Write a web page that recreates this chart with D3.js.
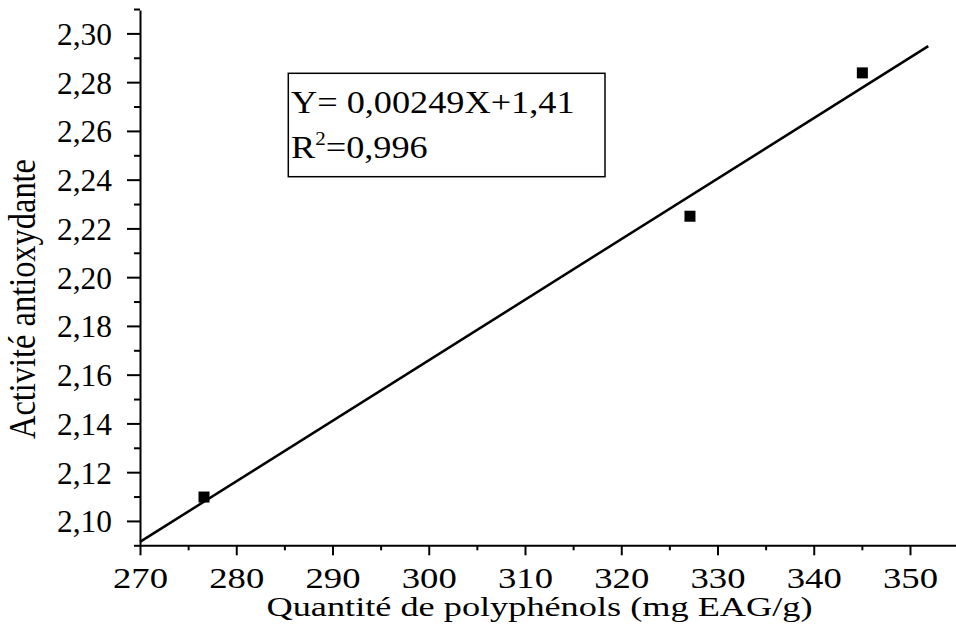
<!DOCTYPE html>
<html lang="fr">
<head>
<meta charset="UTF-8">
<title>Activité antioxydante vs polyphénols</title>
<script src="https://d3js.org/d3.v7.min.js"></script>
<style>
    body { margin: 0; background: #fff; }
    svg text { font-family: "Liberation Serif", "Times New Roman", serif; fill: #000; }
</style>
</head>
<body>
<svg width="956" height="628"></svg>
<script>
// measured points (quantité de polyphénols, activité antioxydante)
const polyphenols = [276.65, 327.14, 345.05];
const activite = [2.1098, 2.225, 2.2838];

// linear fit, endpoints as drawn
const fitX = [270, 351.9];
const fitY = [2.0914, 2.2948];

const xTicks = [270, 280, 290, 300, 310, 320, 330, 340, 350];
const yTicks = [2.10, 2.12, 2.14, 2.16, 2.18, 2.20, 2.22, 2.24, 2.26, 2.28, 2.30];

const equation = "Y= 0,00249X+1,41";
const r2 = "0,996";

const svg = d3.select("svg");

const x = d3.scaleLinear().domain([270, 354.78]).range([140, 956]);
const y = d3.scaleLinear().domain([2.09, 2.3096]).range([545.3, 10]);

const fmtY = d => d3.format(".2f")(d).replace(".", ",");

// minor ticks
svg.append("g")
    .attr("transform", "translate(0,545.3)")
    .call(d3.axisBottom(x).tickValues(d3.range(275, 355, 10)).tickSize(5).tickFormat(""))
    .call(g => g.select(".domain").remove())
    .call(g => g.selectAll("line").attr("stroke-width", 2));

svg.append("g")
    .attr("transform", "translate(140,0)")
    .call(d3.axisLeft(y).tickValues(d3.range(2.09, 2.31, 0.02)).tickSize(6).tickFormat(""))
    .call(g => g.select(".domain").remove())
    .call(g => g.selectAll("line").attr("stroke-width", 2));

// x axis
const gx = svg.append("g")
    .attr("transform", "translate(0,545.3)")
    .call(d3.axisBottom(x).tickValues(xTicks).tickSize(10).tickSizeOuter(0).tickPadding(33).tickFormat(d3.format("d")));
gx.select(".domain").attr("stroke-width", 2);
gx.selectAll("line").attr("stroke-width", 2);
gx.selectAll("text")
    .attr("dy", null)
    .attr("font-size", 30)
    .attr("textLength", 55)
    .attr("lengthAdjust", "spacingAndGlyphs");

// y axis
const gy = svg.append("g")
    .attr("transform", "translate(140,0)")
    .call(d3.axisLeft(y).tickValues(yTicks).tickSize(13).tickSizeOuter(0).tickPadding(15).tickFormat(fmtY));
gy.select(".domain").attr("stroke-width", 2);
gy.selectAll("line").attr("stroke-width", 2);
gy.selectAll("text")
    .attr("dy", "0.35em")
    .attr("font-size", 31)
    .attr("textLength", 55)
    .attr("lengthAdjust", "spacingAndGlyphs");

// axis titles
svg.append("text")
    .attr("x", 539.5).attr("y", 616)
    .attr("text-anchor", "middle")
    .attr("font-size", 28)
    .attr("textLength", 546)
    .attr("lengthAdjust", "spacingAndGlyphs")
    .text("Quantité de polyphénols (mg EAG/g)");

svg.append("text")
    .attr("transform", "translate(35,299) rotate(-90)")
    .attr("text-anchor", "middle")
    .attr("font-size", 38)
    .attr("textLength", 280)
    .attr("lengthAdjust", "spacingAndGlyphs")
    .text("Activité antioxydante");

// fit line
svg.append("line")
    .attr("x1", x(fitX[0])).attr("y1", y(fitY[0]))
    .attr("x2", x(fitX[1])).attr("y2", y(fitY[1]))
    .attr("stroke", "#000")
    .attr("stroke-width", 2.5);

// points
svg.append("g")
    .selectAll("rect")
    .data(polyphenols)
    .join("rect")
    .attr("x", d => x(d) - 5.5)
    .attr("y", (d, i) => y(activite[i]) - 5.5)
    .attr("width", 11)
    .attr("height", 11)
    .attr("fill", "#000");

// equation box
svg.append("rect")
    .attr("x", 288.3).attr("y", 73.3)
    .attr("width", 316.7).attr("height", 103.4)
    .attr("fill", "none")
    .attr("stroke", "#000")
    .attr("stroke-width", 1.5);

svg.append("text")
    .attr("transform", "translate(291,112.7) scale(1.17,1)")
    .attr("font-size", 31)
    .text(equation);

const t2 = svg.append("text")
    .attr("transform", "translate(291,158.3) scale(1.17,1)")
    .attr("font-size", 31);
t2.append("tspan").text("R");
t2.append("tspan").attr("font-size", 18).attr("dy", -13).text("2");
t2.append("tspan").attr("dy", 13).text("=" + r2);
</script>
</body>
</html>
